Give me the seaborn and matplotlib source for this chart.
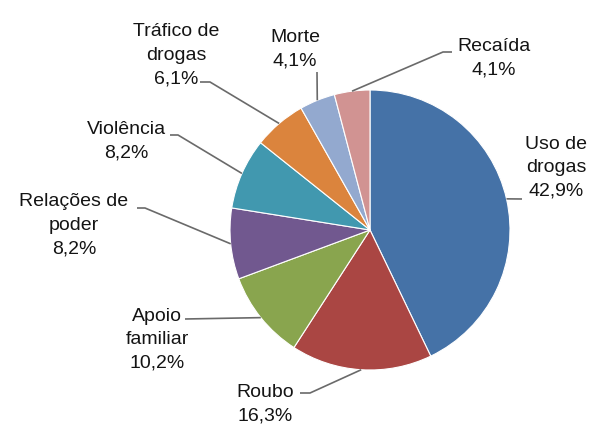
import numpy as np
import matplotlib
matplotlib.use("Agg")
import matplotlib.pyplot as plt
import seaborn as sns

# dados do gráfico
categorias = ["Uso de drogas", "Roubo", "Apoio familiar", "Relações de poder",
              "Violência", "Tráfico de drogas", "Morte", "Recaída"]
rotulos = ["Uso de\ndrogas", "Roubo", "Apoio\nfamiliar", "Relações de\npoder",
           "Violência", "Tráfico de\ndrogas", "Morte", "Recaída"]
percentuais = [42.9, 16.3, 10.2, 8.2, 8.2, 6.1, 4.1, 4.1]
cores = ["#4572A7", "#AA4643", "#89A54E", "#71588F",
         "#4198AF", "#DB843D", "#93A9CF", "#D19392"]

# layout em pixels (origem no canto superior esquerdo)
W, H = 615, 434
CENTRO = (370, 230)
RAIO = 140
POS_TEXTO = [(556, 168), (265, 404), (157, 340), (74, 225),
             (126, 141), (176, 55), (295, 49), (494, 58)]
PONTOS_LINHA = [[(522, 199)], [(310, 393), (300, 393)], [(185, 319)],
                [(145, 208), (137, 208)], [(178, 135), (170, 135)],
                [(210, 82), (200, 82)], [(317, 72)], [(443, 52), (452, 52)]]

sns.set_theme(style="white")
plt.rcParams["font.family"] = ["Liberation Sans", "DejaVu Sans"]


def py(y):
    return H - y


def main():
    fig = plt.figure(figsize=(W / 100, H / 100), dpi=100)
    ax = fig.add_axes([0, 0, 1, 1])

    wedges, _ = ax.pie(
        percentuais, colors=sns.color_palette(cores), startangle=90,
        counterclock=False, radius=RAIO, center=(CENTRO[0], py(CENTRO[1])),
        wedgeprops=dict(edgecolor="white", linewidth=0.8),
    )
    ax.set_xlim(0, W)
    ax.set_ylim(0, H)
    ax.set_aspect("equal")
    ax.axis("off")

    for w, txt, val, pos, pts in zip(wedges, rotulos, percentuais,
                                     POS_TEXTO, PONTOS_LINHA):
        ang = np.deg2rad((w.theta1 + w.theta2) / 2)
        x0 = CENTRO[0] + RAIO * np.cos(ang)
        y0 = py(CENTRO[1]) + RAIO * np.sin(ang)
        xs = [x0] + [p[0] for p in pts]
        ys = [y0] + [py(p[1]) for p in pts]
        ax.plot(xs, ys, color="#6a6a6a", lw=1.2, solid_capstyle="butt")
        ax.text(pos[0], py(pos[1]), f"{txt}\n{val:.1f}%".replace(".", ","),
                ha="center", va="center", multialignment="center",
                fontsize=14, color="#141414", linespacing=1.5)

    fig.savefig("out.png", dpi=100)
    plt.close(fig)


if __name__ == "__main__":
    main()
